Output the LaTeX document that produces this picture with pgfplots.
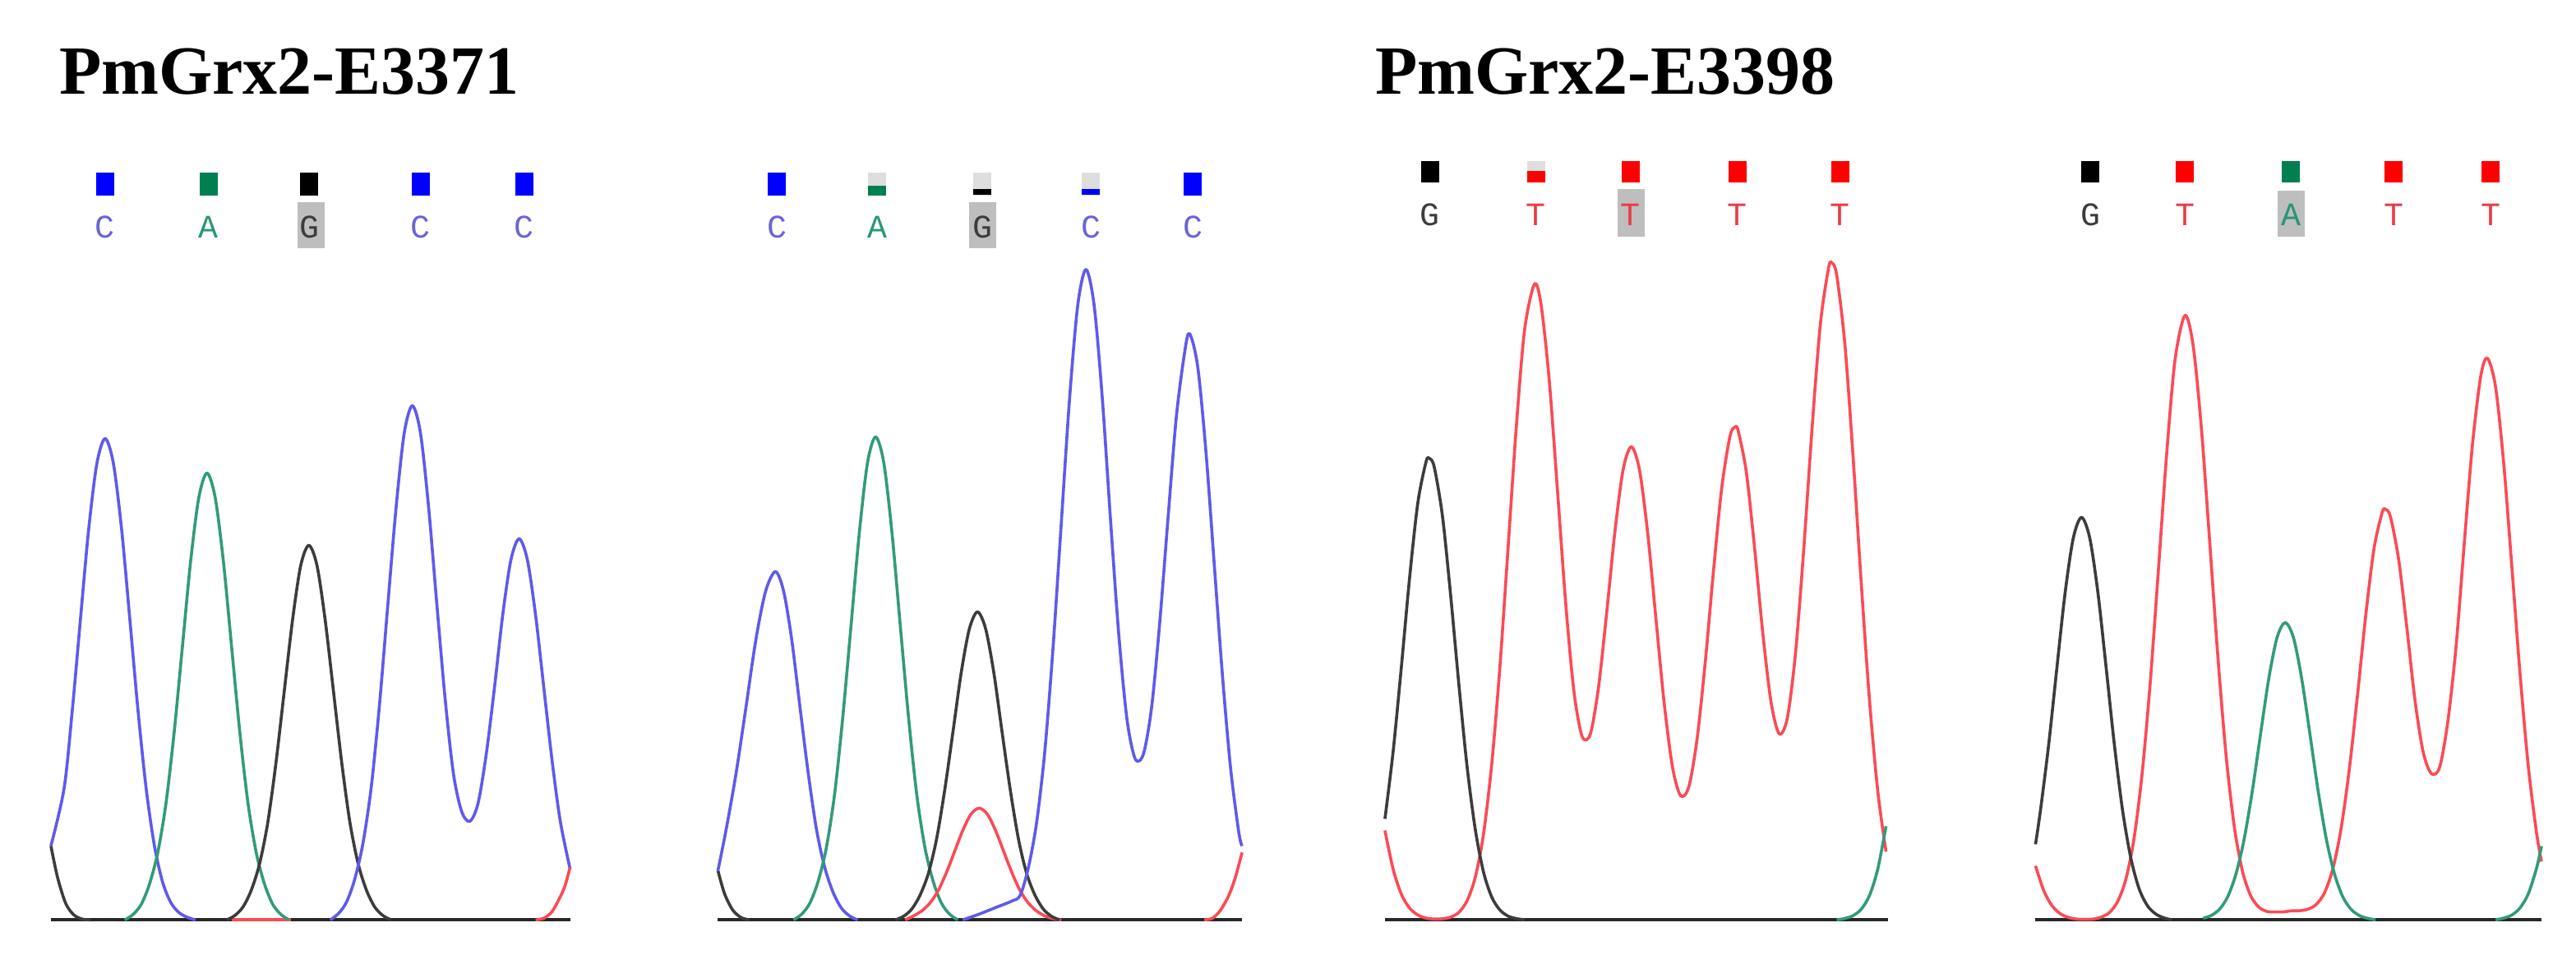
\documentclass[border=0pt]{standalone}
\usepackage{fontspec}
\setmainfont{Liberation Serif}
\newfontfamily\monof{Liberation Mono}
\usepackage{pgfplots}
\pgfplotsset{compat=1.18}
\definecolor{tblue}{RGB}{95,90,235}
\definecolor{tgreen}{RGB}{50,155,120}
\definecolor{tblack}{RGB}{60,60,60}
\definecolor{tred}{RGB}{250,75,85}
\definecolor{sqblue}{RGB}{0,0,255}
\definecolor{sqgreen}{RGB}{0,128,80}
\definecolor{sqred}{RGB}{255,0,0}
\definecolor{lblue}{RGB}{105,100,215}
\definecolor{lgreen}{RGB}{40,150,120}
\definecolor{lblack}{RGB}{60,60,60}
\definecolor{lred}{RGB}{235,60,70}
\definecolor{hlgray}{RGB}{190,190,190}
\definecolor{sqgray}{RGB}{222,222,222}
\definecolor{basec}{RGB}{40,40,40}
\tikzset{lbl/.style={font=\monof\fontsize{10}{10}\selectfont, anchor=base}}
\begin{document}
\begin{tikzpicture}
\begin{axis}[
  width=784pt, height=290.5pt, scale only axis,
  xmin=0, xmax=1568, ymin=-21, ymax=560,
  axis lines=none, ticks=none, clip=false,
  every axis plot/.append style={line width=0.9pt, line join=round},
]
% bounding box
\addplot[draw=none] coordinates {(0,-21) (1568,560)};

% ---------- titles ----------
\node[anchor=base west, font=\bfseries\fontsize{21}{24}\selectfont] at (axis cs:29,502.5) {PmGrx2-E3371};
\node[anchor=base west, font=\bfseries\fontsize{21}{24}\selectfont] at (axis cs:830,502.5) {PmGrx2-E3398};

% ---------- baselines ----------
\addplot[basec, line width=1pt] coordinates {(31,0) (347,0)};
\addplot[basec, line width=1pt] coordinates {(437,0) (756,0)};
\addplot[basec, line width=1pt] coordinates {(843,0) (1149,0)};
\addplot[basec, line width=1pt] coordinates {(1239,0) (1547,0)};
\addplot[tred, line width=1pt] coordinates {(141,0) (177,0)};

% ================= PANEL 1 =================
\addplot[tblack, smooth] coordinates {(31,45) (35,26) (40,10) (45,3) (50,0.5) (55,0)};
\addplot[tblue, smooth] coordinates {(31,45) (39,80) (44,127.5) (49,183.4) (54,238) (59,278) (64,293) (69,278) (74,238) (79,183.4) (84,127.5) (89,79.7) (94,45.1) (99,22.9) (104,10.5) (109,4.4) (114,1.6) (119,0)};
\addplot[tgreen, smooth] coordinates {(76,0) (81,3.3) (86,9.5) (91,21.8) (96,40.8) (101,70.7) (106,114) (111,166) (116,218) (121,257) (126,272) (131,257) (136,218) (141,166) (146,114) (151,70.7) (156,40.8) (161,21.8) (166,9.5) (171,3.3) (176,0)};
\addplot[tblack, smooth] coordinates {(138,0) (143,2.7) (148,8) (153,18.2) (158,34.2) (163,59.3) (168,95.8) (173,139) (178,182) (183,215.5) (188,228) (193,215.5) (198,182) (203,139) (208,95.8) (213,59.3) (218,34.2) (223,18.2) (228,8) (233,2.7) (238,0)};
\addplot[tblue, smooth] coordinates {(201,0) (206,3.8) (211,11) (216,25) (221,47) (226,81) (231,131) (236,191) (241,250) (246,296) (251,313) (256,296) (261,250) (266,191) (271,134) (276,89) (281,66) (286,60) (291,71) (296,101) (301,141.5) (306,185.6) (311,219.2) (316,232) (321,219.2) (326,185.6) (331,141.5) (336,97.4) (341,60.3) (347,31)};
\addplot[tred, smooth] coordinates {(326,0) (331,1) (336,5) (341,14) (344,21) (347,32)};

% ================= PANEL 2 =================
\addplot[tblack, smooth] coordinates {(437,30) (441,16) (446,6) (451,1.5) (456,0)};
\addplot[tblue, smooth] coordinates {(437,30) (442,55) (448,89) (454,129) (460,170) (466,200) (472,212) (477,200) (482,170) (487,129) (492,89) (497,55) (502,32) (507,17) (512,7.4) (517,2.5) (522,0)};
\addplot[tgreen, smooth] coordinates {(483,0) (488,3.5) (493,10.3) (498,23.5) (503,44) (508,76.4) (513,123.5) (518,179) (523,235) (528,278) (533,294) (538,278) (543,235) (548,179) (553,123.5) (558,76.4) (563,44) (568,23.5) (573,10.3) (578,3.5) (583,0)};
\addplot[tred, smooth] coordinates {(551,0) (556,2.4) (561,5.4) (566,10.2) (571,17.7) (576,28.6) (581,41.5) (586,54.4) (591,64.3) (596,68) (601,64.3) (606,54.4) (611,41.5) (616,28.6) (621,17.7) (626,10.2) (631,5.4) (636,2.4) (641,0.8) (646,0)};
\addplot[tblack, smooth] coordinates {(545,0) (550,2.2) (555,6.6) (560,15) (565,28) (570,48.8) (575,78.8) (580,114) (585,150) (590,177) (595,187.5) (600,177) (605,150) (610,114) (615,78.8) (620,48.8) (625,28) (630,15) (635,6.6) (640,2.2) (645,0)};
\addplot[tblue, smooth] coordinates {(586,0) (596,3.5) (606,7.5) (616,11.5) (621,15) (626,32) (631,59.4) (636,103) (641,166) (646,241.6) (651,316.8) (656,374) (661,396) (666,374) (671,317) (676,243) (681,173.5) (686,122) (691,98) (696,101) (701,129.6) (706,181.9) (711,245) (716,306) (721,345) (724,357) (729,337) (734,285.6) (739,217.8) (744,150) (749,92.8) (754,53.6) (756,45)};
\addplot[tred, smooth] coordinates {(733,0) (738,1) (743,6) (748,15) (752,26) (756,41)};

% ================= PANEL 3 =================
\addplot[tred, smooth] coordinates {(843,54.4) (848,30.8) (853,15.6) (858,7.2) (863,3) (868,1.1) (873,0.5) (878,0.7) (883,1.7) (888,4.6) (893,11.7) (898,26) (903,52.3) (908,94.8) (913,154.4) (918,227.2) (923,300.7) (928,359.1) (934,387) (938,374.7) (943,328.6) (948,261.7) (953,193.1) (958,139.4) (963,111.7) (968,113.1) (973,141.6) (978,187.3) (983,236.5) (988,274.2) (993,288) (998,273.6) (1003,234.8) (1008,182.8) (1013,131.7) (1018,93.2) (1023,75.5) (1028,81.2) (1033,110.2) (1038,157.2) (1043,212.6) (1048,263) (1053,294.3) (1056,300) (1058,297.8) (1063,272.3) (1068,226.3) (1073,174.6) (1078,132.7) (1083,113.2) (1088,123.2) (1093,163.4) (1098,226.8) (1103,299.4) (1108,362.3) (1113,396.8) (1115,400) (1118,392.4) (1123,350) (1128,281.2) (1133,203.8) (1138,133) (1143,78.2) (1148,41.5)};
\addplot[tblack, smooth] coordinates {(843,61.5) (848,102.6) (853,154) (858,208.2) (863,253.7) (868,278.8) (870,281) (873,275.7) (878,245.9) (883,197.5) (888,143.3) (893,93.3) (898,55) (903,29.1) (908,13.9) (913,6) (918,2.3) (923,0.8) (928,0)};
\addplot[tgreen, smooth] coordinates {(1118,0) (1123,0.9) (1128,2.6) (1133,6.6) (1138,15) (1143,31) (1148,57)};

% ================= PANEL 4 =================
\addplot[tred, smooth] coordinates {(1239,32.9) (1244,17.8) (1249,8.7) (1254,3.8) (1259,1.5) (1264,0.5) (1269,0.3) (1274,0.5) (1279,1.7) (1284,4.5) (1289,11.2) (1294,24.8) (1299,49.8) (1304,90.2) (1309,146.8) (1314,216) (1319,286) (1324,341.5) (1330,368) (1335,349.2) (1340,298.8) (1345,230.4) (1350,160.1) (1355,100.1) (1360,56.7) (1365,29.5) (1370,14.6) (1375,7.7) (1380,5.1) (1385,4.8) (1390,4.9) (1395,5.5) (1400,5.6) (1405,6.6) (1410,9.5) (1415,16.7) (1420,31.2) (1425,55.6) (1430,91.7) (1435,137) (1440,185.3) (1445,225.8) (1450,248) (1452,250) (1455,245.5) (1460,219.6) (1465,178.1) (1470,133.5) (1475,102) (1480,89) (1485,93) (1490,121) (1495,166.7) (1500,229.5) (1505,289.7) (1510,330.9) (1514,342) (1519,324.6) (1524,277.7) (1529,214.1) (1534,148.8) (1539,93) (1544,52.7) (1547,35.5)};
\addplot[tblack, smooth] coordinates {(1239,46) (1242,66.6) (1247,106.6) (1252,153.4) (1257,199) (1262,232.5) (1267,245) (1272,232.5) (1277,199) (1282,153.4) (1287,106.6) (1292,66.6) (1297,37.7) (1302,19.1) (1307,8.8) (1312,3.7) (1317,1.3) (1322,0)};
\addplot[tgreen, smooth] coordinates {(1341,1) (1346,2.7) (1351,6.5) (1356,14.1) (1361,27.9) (1366,49.2) (1371,78.7) (1376,113.3) (1381,147) (1386,171.8) (1391,181) (1396,171.8) (1401,147) (1406,113.3) (1411,78.7) (1416,49.2) (1421,27.9) (1426,14.1) (1431,6.5) (1436,2.7) (1441,1) (1446,0)};
\addplot[tgreen, smooth] coordinates {(1519,0) (1524,1.1) (1529,3) (1534,7.4) (1539,16) (1544,31.6) (1547,44.9)};

% ================= base-call squares =================
% panel 1
\addplot[sqblue, line width=5.5pt] coordinates {(64,441) (64,455)};
\addplot[sqgreen, line width=5.5pt] coordinates {(127,441) (127,455)};
\addplot[black, line width=5.5pt] coordinates {(188,441) (188,455)};
\addplot[sqblue, line width=5.5pt] coordinates {(256,441) (256,455)};
\addplot[sqblue, line width=5.5pt] coordinates {(319,441) (319,455)};
% panel 2
\addplot[sqblue, line width=5.5pt] coordinates {(473,441) (473,455)};
\addplot[sqgray, line width=5.5pt] coordinates {(534,441) (534,455)};
\addplot[sqgreen, line width=5.5pt] coordinates {(534,441) (534,447)};
\addplot[sqgray, line width=5.5pt] coordinates {(598,441) (598,455)};
\addplot[black, line width=5.5pt] coordinates {(598,441.5) (598,445)};
\addplot[sqgray, line width=5.5pt] coordinates {(664,441) (664,455)};
\addplot[sqblue, line width=5.5pt] coordinates {(664,441.5) (664,445)};
\addplot[sqblue, line width=5.5pt] coordinates {(726,441) (726,455)};
% panel 3
\addplot[black, line width=5.5pt] coordinates {(870.5,449) (870.5,462)};
\addplot[sqgray, line width=5.5pt] coordinates {(935,449) (935,462)};
\addplot[sqred, line width=5.5pt] coordinates {(935,449) (935,456)};
\addplot[sqred, line width=5.5pt] coordinates {(992.5,449) (992.5,462)};
\addplot[sqred, line width=5.5pt] coordinates {(1057.5,449) (1057.5,462)};
\addplot[sqred, line width=5.5pt] coordinates {(1120,449) (1120,462)};
% panel 4
\addplot[black, line width=5.5pt] coordinates {(1272.5,449) (1272.5,462)};
\addplot[sqred, line width=5.5pt] coordinates {(1330,449) (1330,462)};
\addplot[sqgreen, line width=5.5pt] coordinates {(1394.5,449) (1394.5,462)};
\addplot[sqred, line width=5.5pt] coordinates {(1457,449) (1457,462)};
\addplot[sqred, line width=5.5pt] coordinates {(1516,449) (1516,462)};

% ================= highlight boxes =================
\addplot[hlgray, line width=8.25pt] coordinates {(189.2,409) (189.2,437)};
\addplot[hlgray, line width=8.25pt] coordinates {(598.3,409) (598.3,437)};
\addplot[hlgray, line width=8.25pt] coordinates {(992.8,416) (992.8,445)};
\addplot[hlgray, line width=8.25pt] coordinates {(1394.8,416) (1394.8,444)};

% ================= base letters =================
\node[lbl, text=lblue] at (axis cs:64,415) {C};
\node[lbl, text=lgreen] at (axis cs:127,415) {A};
\node[lbl, text=lblack] at (axis cs:188.5,415) {G};
\node[lbl, text=lblue] at (axis cs:256,415) {C};
\node[lbl, text=lblue] at (axis cs:319,415) {C};

\node[lbl, text=lblue] at (axis cs:473,415) {C};
\node[lbl, text=lgreen] at (axis cs:534,415) {A};
\node[lbl, text=lblack] at (axis cs:598,415) {G};
\node[lbl, text=lblue] at (axis cs:664,415) {C};
\node[lbl, text=lblue] at (axis cs:726,415) {C};

\node[lbl, text=lblack] at (axis cs:870.5,422.5) {G};
\node[lbl, text=lred] at (axis cs:935,422.5) {T};
\node[lbl, text=lred] at (axis cs:992.5,422.5) {T};
\node[lbl, text=lred] at (axis cs:1057.5,422.5) {T};
\node[lbl, text=lred] at (axis cs:1120,422.5) {T};

\node[lbl, text=lblack] at (axis cs:1272.5,422.5) {G};
\node[lbl, text=lred] at (axis cs:1330,422.5) {T};
\node[lbl, text=lgreen] at (axis cs:1394.5,422.5) {A};
\node[lbl, text=lred] at (axis cs:1457,422.5) {T};
\node[lbl, text=lred] at (axis cs:1516,422.5) {T};
\end{axis}
\end{tikzpicture}
\end{document}
